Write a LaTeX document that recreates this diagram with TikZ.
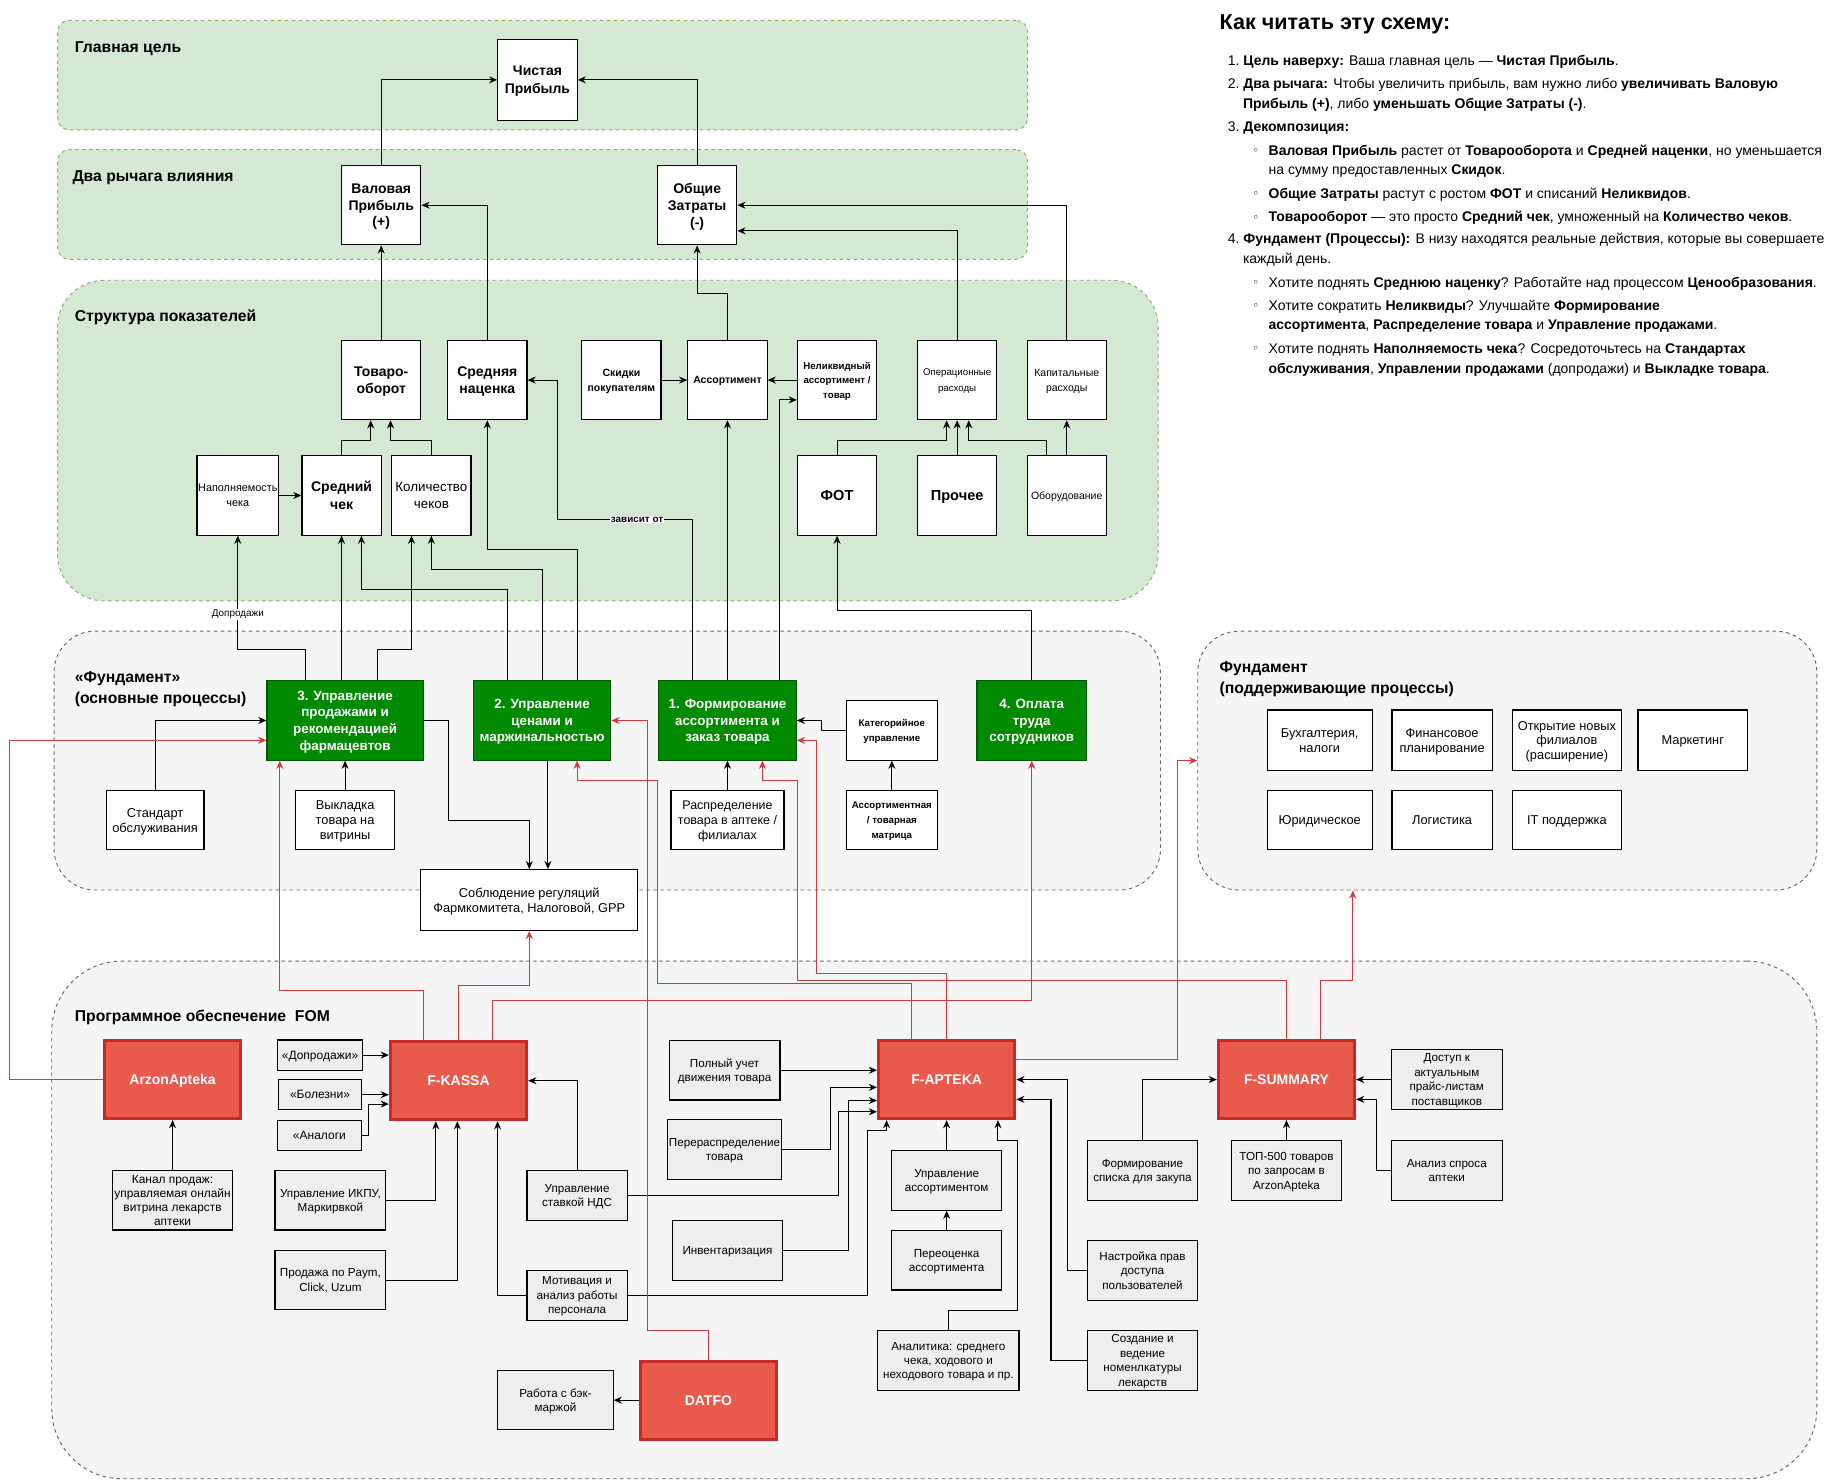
\documentclass[tikz,border=0pt]{standalone}
\usepackage{fontspec}
\setmainfont{Liberation Sans}
\newfontfamily\symfont{DejaVu Sans}
\usetikzlibrary{arrows.meta, calc, positioning}
\definecolor{zonefill}{HTML}{D5E8D4}
\definecolor{zoneline}{HTML}{82B366}
\definecolor{grayfill}{HTML}{F5F5F5}
\definecolor{grayline}{HTML}{666666}
\definecolor{procfill}{HTML}{008A00}
\definecolor{procline}{HTML}{005700}
\definecolor{appfill}{HTML}{E85A4C}
\definecolor{appline}{HTML}{C62A2A}
\definecolor{softfill}{HTML}{EEEEEE}
\definecolor{linkred}{HTML}{D03A3A}
\newcommand{\fsz}[2]{\fontsize{#1}{#2}\selectfont}
\tikzset{
    textdown/.style={text depth=-4pt},
    greenzone/.style={draw=zoneline, fill=zonefill, dash pattern=on 3pt off 3pt, line width=0.8pt, anchor=north west, inner sep=0pt, rounded corners=#1},
    greenzone/.default=10pt,
    grayzone/.style={draw=grayline, fill=grayfill, dash pattern=on 3pt off 3pt, line width=0.8pt, anchor=north west, inner sep=0pt, rounded corners=#1},
    zonetitle/.style={anchor=west, align=left, inner sep=0pt, yshift=-2.5pt, font=\fsz{13.5}{17.5}\bfseries},
    box/.style={draw, fill=white, line width=1pt, align=center, inner sep=1pt, minimum width=68pt, minimum height=68pt, textdown},
    proc/.style={draw=procline, fill=procfill, line width=1pt, text=white, align=center, inner sep=1pt, minimum height=68pt, textdown, font=\fsz{11.5}{14.3}\bfseries},
    note/.style={draw, fill=white, line width=1pt, align=center, inner sep=1pt, minimum height=51pt, textdown, font=\fsz{11}{13}},
    soft/.style={draw, fill=softfill, line width=1pt, align=center, inner sep=1pt, minimum height=51pt, textdown, font=\fsz{10}{12.4}},
    app/.style={draw=appline, fill=appfill, line width=2.5pt, text=white, minimum width=117pt, minimum height=67pt, textdown, font=\fsz{12}{14}\bfseries},
    link/.style={-{Stealth[length=7pt, width=6pt]}, line width=0.9pt},
    redlink/.style={link, draw=linkred},
    edgelabel/.style={fill=white, inner sep=1pt, font=\fsz{8.5}{10}},
    listline/.style={anchor=west, inner sep=0pt, yshift=-2pt, font=\fsz{12}{14}}
}

\begin{document}
\begin{tikzpicture}[x=1pt, y=-1pt]
    \fill[white] (0,0) rectangle (1568,1270);
    \useasboundingbox (0,0) rectangle (1568,1270);

    % zones
    \node[greenzone, minimum width=832pt, minimum height=94pt] (zgoal) at (49,17) {};
    \node[greenzone, minimum width=832pt, minimum height=94pt] (zlever) at (49,128) {};
    \node[greenzone=40pt, minimum width=944pt, minimum height=275pt] (zstruct) at (49,240) {};
    \node[grayzone=35pt, minimum width=949pt, minimum height=222pt] (zcore) at (46,541) {};
    \node[grayzone=35pt, minimum width=531pt, minimum height=222pt] (zsupp) at (1027,541) {};
    \node[grayzone=60pt, minimum width=1514pt, minimum height=444pt] (zsoft) at (44,824) {};

    \node[zonetitle] (tgoal) at (64,39) {Главная цель};
    \node[zonetitle] (tlever) at (62,150) {Два рычага влияния};
    \node[zonetitle] (tstruct) at (64,270) {Структура показателей};
    \node[zonetitle] (tcore) at (64,588.5) {«Фундамент»\\(основные процессы)};
    \node[zonetitle] (tsupp) at (1046,580) {Фундамент\\(поддерживающие процессы)};
    \node[zonetitle] (tsoft) at (64,870) {Программное обеспечение\ \ FOM};

    % goal and levers
    \node[box, minimum height=69pt, font=\fsz{12}{15}\bfseries] (net) at (461,68.5) {Чистая\\Прибыль};
    \node[box, font=\fsz{12}{14.5}\bfseries] (gross) at (327,176) {Валовая\\Прибыль\\(+)};
    \node[box, font=\fsz{12}{14.5}\bfseries] (costs) at (598,176) {Общие\\Затраты\\(-)};

    % indicators
    \node[box, font=\fsz{12}{15}\bfseries] (turnover) at (327,326) {Товаро-\\оборот};
    \node[box, font=\fsz{12}{15}\bfseries] (markup) at (418,326) {Средняя\\наценка};
    \node[box, font=\fsz{9}{13}\bfseries] (disc) at (533,326) {Скидки\\покупателям};
    \node[box, font=\fsz{9}{13}\bfseries] (assort) at (624,326) {Ассортимент};
    \node[box, font=\fsz{8.3}{12.5}\bfseries] (illiq) at (718,326) {Неликвидный\\ассортимент /\\товар};
    \node[box, font=\fsz{8.3}{13}] (opex) at (821,326) {Операционные\\расходы};
    \node[box, font=\fsz{9}{13}] (capex) at (915,326) {Капитальные\\расходы};
    \node[box, font=\fsz{9.3}{13}] (fill) at (204,425) {Наполняемость\\чека};
    \node[box, font=\fsz{12}{15}\bfseries] (avgchk) at (293,425) {Средний\\чек};
    \node[box, font=\fsz{11.5}{15}] (nchk) at (370,425) {Количество\\чеков};
    \node[box, font=\fsz{12.5}{15}\bfseries] (fot) at (718,425) {ФОТ};
    \node[box, font=\fsz{12.5}{15}\bfseries] (other) at (821,425) {Прочее};
    \node[box, font=\fsz{9}{13}] (equip) at (915,425) {Оборудование};

    % core processes
    \node[proc, minimum width=134pt] (p3) at (296,618) {3. Управление\\продажами и\\рекомендацией\\фармацевтов};
    \node[proc, minimum width=118pt] (p2) at (465,618) {2. Управление\\ценами и\\маржинальностью};
    \node[proc, minimum width=118pt] (p1) at (624,618) {1. Формирование\\ассортимента и\\заказ товара};
    \node[proc, minimum width=94pt] (p4) at (885,618) {4. Оплата\\труда\\сотрудников};
    \node[note, minimum width=84pt] (std) at (133,703.5) {Стандарт\\обслуживания};
    \node[note, minimum width=85pt] (shelf) at (296,703.5) {Выкладка\\товара на\\витрины};
    \node[note, minimum width=97pt, font=\fsz{10.7}{13}] (distr) at (624,703.5) {Распределение\\товара в аптеке /\\филиалах};
    \node[note, minimum width=78pt, font=\fsz{8.3}{12.5}\bfseries] (catm) at (765,626.5) {Категорийное\\управление};
    \node[note, minimum width=78pt, font=\fsz{8.3}{12.5}\bfseries] (matrix) at (765,703.5) {Ассортиментная\\/ товарная\\матрица};
    \node[note, minimum width=186pt, minimum height=52pt] (reg) at (454,772) {Соблюдение регуляций\\Фармкомитета, Налоговой, GPP};

    % supporting processes
    \node[note, minimum width=90pt, minimum height=52pt, font=\fsz{11}{12.5}] (acc) at (1132,635) {Бухгалтерия,\\налоги};
    \node[note, minimum width=86pt, minimum height=52pt, font=\fsz{11}{12.5}] (fin) at (1237,635) {Финансовое\\планирование};
    \node[note, minimum width=94pt, minimum height=52pt, font=\fsz{11}{12.5}] (open) at (1344,635) {Открытие новых\\филиалов\\(расширение)};
    \node[note, minimum width=94pt, minimum height=52pt, font=\fsz{11}{12.5}] (mkt) at (1452,635) {Маркетинг};
    \node[note, minimum width=90pt, font=\fsz{11}{12.5}] (legal) at (1132,703.5) {Юридическое};
    \node[note, minimum width=86pt, font=\fsz{11}{12.5}] (logi) at (1237,703.5) {Логистика};
    \node[note, minimum width=94pt, font=\fsz{11}{12.5}] (it) at (1344,703.5) {IT поддержка};

    % software
    \node[app] (arzon) at (148,926) {ArzonApteka};
    \node[app] (kassa) at (393.3,927) {F-KASSA};
    \node[app] (aptk) at (812,926) {F-APTEKA};
    \node[app] (summ) at (1103.5,926) {F-SUMMARY};
    \node[app] (datfo) at (607.6,1201) {DATFO};
    \node[soft, minimum width=73pt, minimum height=26pt, font=\fsz{10.3}{12}] (upsell) at (274.5,905) {«Допродажи»};
    \node[soft, minimum width=71pt, minimum height=26pt, font=\fsz{10.3}{12}] (ill) at (274.5,939) {«Болезни»};
    \node[soft, minimum width=72pt, minimum height=26pt, font=\fsz{10.3}{12}] (analog) at (274,974) {«Аналоги};
    \node[soft, minimum width=103pt, font=\fsz{10.2}{12}] (chan) at (148,1029.6) {Канал продаж:\\управляемая онлайн\\витрина лекарств\\аптеки};
    \node[soft, minimum width=95pt] (ikpu) at (283.4,1029.6) {Управление ИКПУ,\\Маркирвкой};
    \node[soft, minimum width=95pt] (pay) at (283.4,1098) {Продажа по Paym,\\Click, Uzum};
    \node[soft, minimum width=86pt, minimum height=43pt] (vat) at (495,1025.4) {Управление\\ставкой НДС};
    \node[soft, minimum width=86pt, minimum height=43pt] (motiv) at (495,1111) {Мотивация и\\анализ работы\\персонала};
    \node[soft, minimum width=99pt] (back) at (476.4,1201) {Работа с бэк-\\маржой};
    \node[soft, minimum width=95pt] (full) at (621.5,918) {Полный учет\\движения товара};
    \node[soft, minimum width=95pt] (redis) at (621.5,986) {Перераспределение\\товара};
    \node[soft, minimum width=95pt] (inv) at (624,1072.5) {Инвентаризация};
    \node[soft, minimum width=94pt] (amgmt) at (812,1012.5) {Управление\\ассортиментом};
    \node[soft, minimum width=94pt] (reval) at (812,1081) {Переоценка\\ассортимента};
    \node[soft, minimum width=121pt] (analyt) at (813.5,1167) {Аналитика: среднего\\чека, ходового и\\неходового товара и пр.};
    \node[soft, minimum width=94pt] (plist) at (980,1004) {Формирование\\списка для закупа};
    \node[soft, minimum width=94pt] (rights) at (980,1089.7) {Настройка прав\\доступа\\пользователей};
    \node[soft, minimum width=94pt] (nomen) at (980,1167) {Создание и\\ведение\\номенлкатуры\\лекарств};
    \node[soft, minimum width=95pt] (price) at (1241,926) {Доступ к\\актуальным\\прайс-листам\\поставщиков};
    \node[soft, minimum width=94pt] (top500) at (1103.5,1004) {ТОП-500 товаров\\по запросам в\\ArzonApteka};
    \node[soft, minimum width=95pt] (demand) at (1241,1004) {Анализ спроса\\аптеки};

    % links: goal, levers, indicators
    \draw[link] (gross.north) |- (net.west);
    \draw[link] (costs.north) |- (net.east);
    \draw[link] (turnover) -- (gross);
    \draw[link] (markup.north) |- (gross.east);
    \draw[link] (assort.north) -- ++(0,-40) -| (costs.south);
    \draw[link] (opex.north) |- ($(costs.east)+(0,22)$);
    \draw[link] (capex.north) |- (costs.east);
    \draw[link] (disc) -- (assort);
    \draw[link] (illiq) -- (assort);
    \draw[link] (avgchk.north) -- ++(0,-13) -| ($(turnover.south)+(-9,0)$);
    \draw[link] (nchk.north) -- ++(0,-13) -| ($(turnover.south)+(8,0)$);
    \draw[link] (fill) -- (avgchk);
    \draw[link] (fot.north) -- ++(0,-13) -| ($(opex.south)+(-9,0)$);
    \draw[link] (other) -- (opex);
    \draw[link] ($(equip.north)+(-17,0)$) -- ++(0,-13) -| ($(opex.south)+(10,0)$);
    \draw[link] (equip) -- (capex);

    % links: core processes
    \draw[link] ($(p3.north)+(-34,0)$) -- ++(0,-26) -- ++(-58,0) -- node[edgelabel, pos=0.31] {Допродажи} (fill.south);
    \draw[link] ($(p3.north)+(-3,0)$) -- (avgchk.south);
    \draw[link] ($(p3.north)+(28,0)$) -- ++(0,-26) -| ($(nchk.south)+(-17,0)$);
    \draw[link] ($(p2.north)+(-30,0)$) -- ++(0,-78) -| ($(avgchk.south)+(17,0)$);
    \draw[link] (p2.north) -- ++(0,-95) -| (nchk.south);
    \draw[link] ($(p2.north)+(30,0)$) -- ++(0,-112) -| (markup.south);
    \draw[link] ($(p1.north)+(-30,0)$) -- ++(0,-138) -- node[edgelabel, font=\fsz{8.5}{10}\bfseries, pos=0.41] {зависит от} ++(-116,0) |- (markup.east);
    \draw[link] (p1) -- (assort);
    \draw[link] ($(p1.north)+(45,0)$) |- ($(illiq.west)+(0,17)$);
    \draw[link] (p4.north) -- ++(0,-60) -| (fot.south);
    \draw[link] (std.north) |- (p3.west);
    \draw[link] (shelf) -- (p3);
    \draw[link] (p3.east) -- ++(21,0) -- ++(0,86) -| (reg.north);
    \draw[link] ($(p2.south)+(5,0)$) -- ($(reg.north)+(16,0)$);
    \draw[link] (distr) -- (p1);
    \draw[link] (catm.west) -- ++(-21,0) |- (p1.east);
    \draw[link] (matrix) -- (catm);

    % links: software
    \draw[link] (upsell.east) -- (upsell.east -| kassa.west);
    \draw[link] (ill.east) -- (ill.east -| kassa.west);
    \draw[link] (analog.east) -- ++(5.5,0) |- ($(kassa.west)+(0,20)$);
    \draw[link] (chan) -- (arzon);
    \draw[link] (ikpu.east) -| ($(kassa.south)+(-19.5,0)$);
    \draw[link] (pay.east) -| ($(kassa.south)+(-1,0)$);
    \draw[link] (vat.north) |- (kassa.east);
    \draw[link] (motiv.west) -| ($(kassa.south)+(33.5,0)$);
    \draw[link] (vat.east) -- ++(180.5,0) |- ($(aptk.west)+(0,27.6)$);
    \draw[link] (motiv.east) -- ++(206,0) -- ++(0,-141) -| ($(aptk.south)+(-51.5,0)$);
    \draw[link] (full.east) -- (full.east -| aptk.west);
    \draw[link] (redis.east) -- ++(42,0) |- ($(aptk.west)+(0,6.7)$);
    \draw[link] (inv.east) -- ++(55.7,0) |- ($(aptk.west)+(0,18)$);
    \draw[link] (amgmt) -- (aptk);
    \draw[link] (reval) -- (amgmt);
    \draw[link] (analyt.north) -- ++(0,-17) -- ++(59,0) -- ++(0,-146) -| ($(aptk.south)+(44,0)$);
    \draw[link] (rights.west) -- ++(-17,0) |- (aptk.east);
    \draw[link] (nomen.west) -- ++(-31,0) |- ($(aptk.east)+(0,17)$);
    \draw[link] (plist.north) |- (summ.west);
    \draw[link] (price) -- (summ);
    \draw[link] (top500) -- (summ);
    \draw[link] (demand.west) -- ++(-12,0) |- ($(summ.east)+(0,17)$);
    \draw[link] (datfo) -- (back);

    % software feeds the processes
    \draw[redlink] (arzon.west) -- ++(-80,0) |- ($(p3.west)+(0,17)$);
    \draw[redlink] ($(kassa.north)+(-30,0)$) -- ++(0,-43) -| ($(p3.south)+(-56,0)$);
    \draw[redlink] (kassa.north) -- ++(0,-47) -| (reg.south);
    \draw[redlink] ($(kassa.north)+(29,0)$) -- ++(0,-34) -| (p4.south);
    \draw[redlink] (datfo.north) -- ++(0,-25) -- ++(-52.6,0) |- (p2.east);
    \draw[redlink] ($(aptk.north)+(-30,0)$) -- ++(0,-47.6) -- ++(-218,0) -- ++(0,-174) -| ($(p2.south)+(30,0)$);
    \draw[redlink] (aptk.north) -- ++(0,-56.4) -- ++(-111.8,0) |- ($(p1.east)+(0,17)$);
    \draw[redlink] ($(aptk.east)+(0,-17.6)$) -- ++(138.5,0) |- (zsupp.west);
    \draw[redlink] (summ.north) -- ++(0,-50.3) -- ++(-419.5,0) -- ++(0,-171.4) -| ($(p1.south)+(30,0)$);
    \draw[redlink] ($(summ.north)+(29.5,0)$) -- ++(0,-50.3) -| ($(zsupp.south)+(-132.5,0)$);

    % how to read
    \node[anchor=west, inner sep=0pt, yshift=-2pt, font=\fsz{18.5}{22}\bfseries] (howto) at (1046,19) {Как читать эту схему:};
    \node[listline] (l1) at (1053,51) {1.\ \textbf{Цель наверху:} Ваша главная цель — \textbf{Чистая Прибыль}.};
    \node[listline] (l2) at (1053,71) {2.\ \textbf{Два рычага:} Чтобы увеличить прибыль, вам нужно либо \textbf{увеличивать Валовую}};
    \node[listline] (l2b) at (1066,88) {\textbf{Прибыль (+)}, либо \textbf{уменьшать Общие Затраты (-)}.};
    \node[listline] (l3) at (1053,108) {3.\ \textbf{Декомпозиция:}};
    \node[listline, font=\fsz{10}{12}\symfont] (d1) at (1074,128) {◦};
    \node[listline] (l3a) at (1088,128) {\textbf{Валовая Прибыль} растет от \textbf{Товарооборота} и \textbf{Средней наценки}, но уменьшается};
    \node[listline] (l3ab) at (1088,145) {на сумму предоставленных \textbf{Скидок}.};
    \node[listline, font=\fsz{10}{12}\symfont] (d2) at (1074,165) {◦};
    \node[listline] (l3b) at (1088,165) {\textbf{Общие Затраты} растут с ростом \textbf{ФОТ} и списаний \textbf{Неликвидов}.};
    \node[listline, font=\fsz{10}{12}\symfont] (d3) at (1074,185) {◦};
    \node[listline] (l3c) at (1088,185) {\textbf{Товарооборот} — это просто \textbf{Средний чек}, умноженный на \textbf{Количество чеков}.};
    \node[listline] (l4) at (1053,204) {4.\ \textbf{Фундамент (Процессы):} В низу находятся реальные действия, которые вы совершаете};
    \node[listline] (l4b) at (1066,221) {каждый день.};
    \node[listline, font=\fsz{10}{12}\symfont] (d4) at (1074,241) {◦};
    \node[listline] (l4c) at (1088,241) {Хотите поднять \textbf{Среднюю наценку}? Работайте над процессом \textbf{Ценообразования}.};
    \node[listline, font=\fsz{10}{12}\symfont] (d5) at (1074,261) {◦};
    \node[listline] (l4d) at (1088,261) {Хотите сократить \textbf{Неликвиды}? Улучшайте \textbf{Формирование}};
    \node[listline] (l4db) at (1088,278) {\textbf{ассортимента}, \textbf{Распределение товара} и \textbf{Управление продажами}.};
    \node[listline, font=\fsz{10}{12}\symfont] (d6) at (1074,298) {◦};
    \node[listline] (l4e) at (1088,298) {Хотите поднять \textbf{Наполняемость чека}? Сосредоточьтесь на \textbf{Стандартах}};
    \node[listline] (l4eb) at (1088,315) {\textbf{обслуживания}, \textbf{Управлении продажами} (допродажи) и \textbf{Выкладке товара}.};
\end{tikzpicture}
\end{document}
